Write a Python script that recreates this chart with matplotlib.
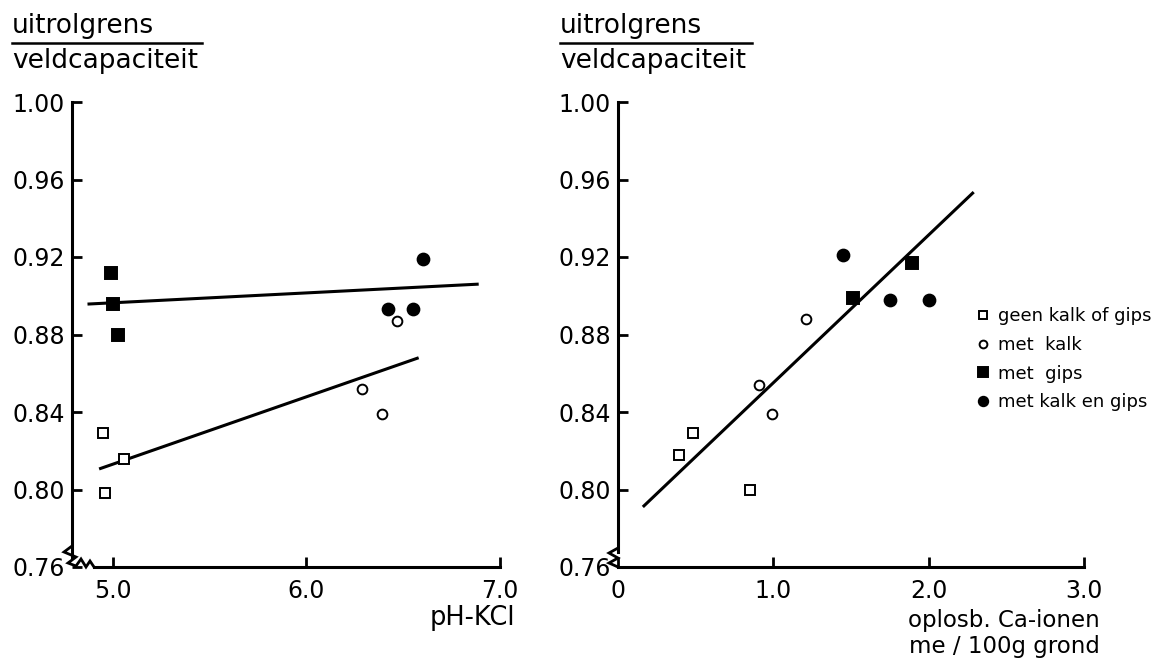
import matplotlib
matplotlib.use("Agg")
import matplotlib.pyplot as plt
from matplotlib.lines import Line2D

plt.rcParams['font.family'] = ['DejaVu Sans']

# groups (legend labels)
labels = ['geen kalk of gips', 'met  kalk', 'met  gips', 'met kalk en gips']

# left panel: pH-KCl vs uitrolgrens/veldcapaciteit
ph_geen = [4.95, 5.06, 4.96]
ph_geen_y = [0.829, 0.816, 0.798]
ph_kalk = [6.47, 6.29, 6.39]
ph_kalk_y = [0.887, 0.852, 0.839]
ph_gips = [4.99, 5.00, 5.03]
ph_gips_y = [0.912, 0.896, 0.880]
ph_kg = [6.60, 6.42, 6.55]
ph_kg_y = [0.919, 0.893, 0.893]
# regression lines (end points)
ph_line_hi_x = [4.87, 6.89]
ph_line_hi_y = [0.8957, 0.906]
ph_line_lo_x = [4.93, 6.58]
ph_line_lo_y = [0.8106, 0.868]

# right panel: soluble Ca-ions
ca_geen = [0.39, 0.48, 0.85]
ca_geen_y = [0.818, 0.829, 0.800]
ca_kalk = [0.91, 0.99, 1.21]
ca_kalk_y = [0.854, 0.839, 0.888]
ca_gips = [1.51, 1.89]
ca_gips_y = [0.899, 0.917]
ca_kg = [1.45, 1.75, 2.00]
ca_kg_y = [0.921, 0.898, 0.898]
ca_line_x = [0.16, 2.29]
ca_line_y = [0.791, 0.9535]

yticks = [0.76, 0.80, 0.84, 0.88, 0.92, 0.96, 1.00]
ph_ticks = [5.0, 6.0, 7.0]
ca_ticks = [0, 1.0, 2.0, 3.0]
ca_ticklabels = ['0', '1.0', '2.0', '3.0']

W, H = 1154, 660
fig = plt.figure(figsize=(W / 100, H / 100), dpi=100)

# axes placed in pixel units of the reference
def px_axes(x0, x1, ytop, ybot):
    return fig.add_axes([x0 / W, 1 - ybot / H, (x1 - x0) / W, (ybot - ytop) / H])

axL = px_axes(72, 500, 102, 567)
axR = px_axes(618, 1084, 102, 567)

mk = dict(linestyle='none', color='black', clip_on=False, zorder=3)

def draw_groups(ax, xs, ys):
    styles = [('s', 'white', 7.5), ('o', 'white', 7), ('s', 'black', 9), ('o', 'black', 8.5)]
    for (m, fc, ms), x, y, lab in zip(styles, xs, ys, labels):
        ax.plot(x, y, marker=m, markerfacecolor=fc, markeredgecolor='black',
                markeredgewidth=1.4, markersize=ms, label=lab, **mk)

draw_groups(axL, [ph_geen, ph_kalk, ph_gips, ph_kg], [ph_geen_y, ph_kalk_y, ph_gips_y, ph_kg_y])
axL.plot(ph_line_hi_x, ph_line_hi_y, color='black', lw=2.2, solid_capstyle='butt')
axL.plot(ph_line_lo_x, ph_line_lo_y, color='black', lw=2.2, solid_capstyle='butt')

draw_groups(axR, [ca_geen, ca_kalk, ca_gips, ca_kg], [ca_geen_y, ca_kalk_y, ca_gips_y, ca_kg_y])
axR.plot(ca_line_x, ca_line_y, color='black', lw=2.2, solid_capstyle='butt')

axL.set_xlim(4.79, 7.0)
axR.set_xlim(0, 3.0)

for ax in (axL, axR):
    ax.set_ylim(0.76, 1.00)
    ax.set_yticks(yticks)
    ax.set_yticklabels(['%.2f' % v for v in yticks])
    ax.spines['top'].set_visible(False)
    ax.spines['right'].set_visible(False)
    ax.spines['left'].set_linewidth(2.2)
    ax.spines['bottom'].set_linewidth(2.2)
    ax.tick_params(direction='in', length=7, width=2, labelsize=17, pad=5)
    ax.tick_params(axis='x', pad=9)

axL.set_xticks(ph_ticks)
axL.set_xticklabels(['%.1f' % v for v in ph_ticks])
axR.set_xticks(ca_ticks)
axR.set_xticklabels(ca_ticklabels)

# axis breaks near the origin
axL.spines['left'].set_bounds(0.765, 1.00)
axL.spines['bottom'].set_bounds(4.905, 7.0)
axR.spines['left'].set_bounds(0.768, 1.00)

def zigzag(ax, x0, pts, wpx, hpx):
    xs = [(x - x0) / wpx for x, y in pts]
    ys = [(567 - y) / hpx for x, y in pts]
    ax.add_line(Line2D(xs, ys, transform=ax.transAxes, color='black', lw=2,
                       clip_on=False, solid_joinstyle='miter'))

zigzag(axL, 72, [(72, 546), (64, 552), (76, 557), (68, 563), (76, 566),
                 (81, 559), (86, 567), (90, 561), (94, 567)], 428, 465)
zigzag(axR, 618, [(618, 548), (609, 553), (618, 558), (609, 563), (618, 567)], 466, 465)

# y-axis titles as fractions
for x0, x1 in ((12, 202), (560, 752)):
    fig.text(x0 / W, 1 - 26 / H, 'uitrolgrens', fontsize=19, va='center', ha='left')
    fig.text(x0 / W, 1 - 61 / H, 'veldcapaciteit', fontsize=19, va='center', ha='left')
    fig.add_artist(Line2D([x0 / W, x1 / W], [1 - 43 / H, 1 - 43 / H], color='black', lw=1.8))

# x-axis titles
fig.text(515 / W, 1 - 618 / H, 'pH-KCl', fontsize=18.5, ha='right', va='center')
fig.text(1100 / W, 1 - 620 / H, 'oplosb. Ca-ionen', fontsize=16.5, ha='right', va='center')
fig.text(1100 / W, 1 - 647 / H, 'me / 100g grond', fontsize=16.5, ha='right', va='center')

# legend
handles, labs = axR.get_legend_handles_labels()
fig.legend(handles, labs, loc='upper left', bbox_to_anchor=(976 / W, 1 - 307 / H),
           frameon=False, fontsize=13, handlelength=0.8, handletextpad=0.4,
           labelspacing=0.6, borderpad=0, borderaxespad=0, markerscale=0.8)

fig.savefig('out.png', dpi=100, facecolor='white')
